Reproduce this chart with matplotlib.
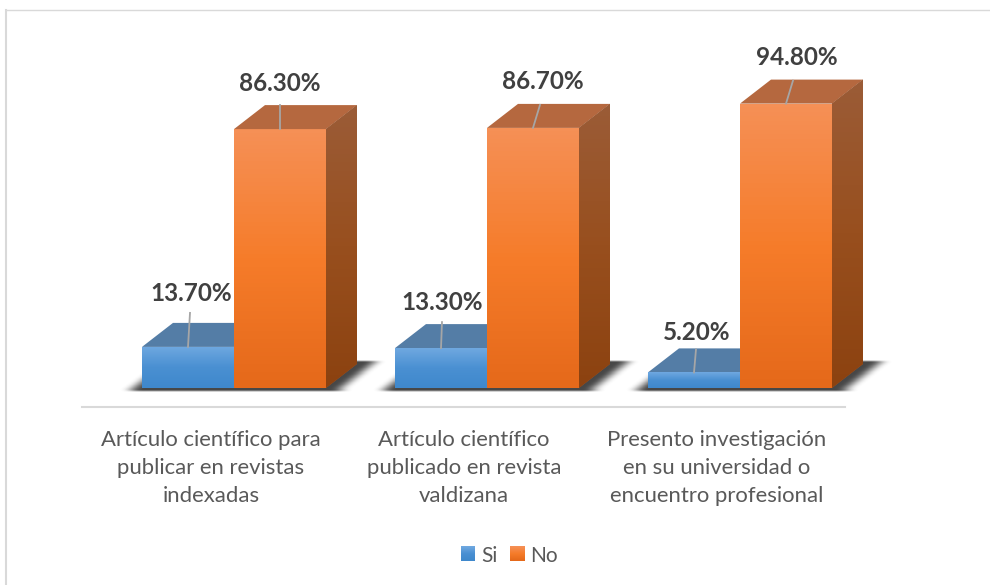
import matplotlib
matplotlib.use("Agg")
import matplotlib.pyplot as plt
import matplotlib.colors as mcolors
from matplotlib.patches import Polygon
import numpy as np

plt.rcParams['font.family'] = ['Lato', 'DejaVu Sans']

categories = ["Artículo científico para\npublicar en revistas\nindexadas",
              "Artículo científico\npublicado en revista\nvaldizana",
              "Presento investigación\nen su universidad o\nencuentro profesional"]
si_values = [13.7, 13.3, 5.2]
no_values = [86.3, 86.7, 94.8]
series_names = ["Si", "No"]

# picture is 990x585, one category = 253 px, one percent = 3 px
PX_X = 1 / 253
PX_Y = 1 / 3
W = 92 * PX_X
DX = 31 * PX_X
DY = 24 * PX_Y
x_left = -234 * PX_X
x_right = (990 - 234) * PX_X
y_bot = -(585 - 388) * PX_Y
y_top = 388 * PX_Y

BLUE = ["#6fa8e0", "#4a90d2", "#3f88cc"]
ORANGE = ["#f59056", "#f67c2a", "#e5691a"]
ORANGE_SIDE = ["#9b5c37", "#984f1e", "#8c4210"]

fig = plt.figure(figsize=(9.9, 5.85), dpi=100)
ax = fig.add_axes([0, 0, 1, 1])
ax.set_xlim(x_left, x_right)
ax.set_ylim(y_bot, y_top)
ax.axis("off")


def gradient_bar(x, v, colors):
	bar = ax.bar(x, v, W, align="edge", color=colors[0], zorder=4)[0]
	cmap = mcolors.LinearSegmentedColormap.from_list("g", colors)
	im = ax.imshow(np.linspace(0, 1, 64)[:, None], cmap=cmap, aspect="auto", zorder=5,
		extent=(x, x + W, 0, v), origin="upper")
	im.set_clip_path(bar)


def box3d(x, v, top, side_colors, z):
	# top face and right face of the bar
	ax.add_patch(Polygon([(x, v), (x + DX, v + DY), (x + W + DX, v + DY), (x + W, v)], fc=top, ec="none", zorder=z))
	side = Polygon([(x + W, 0), (x + W + DX, DY), (x + W + DX, v + DY), (x + W, v)], fc=side_colors[0], ec="none", zorder=z)
	ax.add_patch(side)
	cmap = mcolors.LinearSegmentedColormap.from_list("s", side_colors)
	im = ax.imshow(np.linspace(0, 1, 64)[:, None], cmap=cmap, aspect="auto", zorder=z,
		extent=(x + W, x + W + DX, 0, v + DY), origin="upper")
	im.set_clip_path(side)


def floor_shadow(i):
	# blurred parallelogram under a group
	xs = np.arange(990)
	img = np.zeros((585, 990))
	x0 = 234 + 253 * i
	for row in range(361, 391):
		shift = (388 - row) * 31 / 24 if row <= 388 else 0
		img[row, (xs >= x0 - 102 + shift) & (xs <= x0 + 106 + shift)] = 1
	k = np.hanning(29)
	k = k / k.sum()
	img = np.apply_along_axis(lambda a: np.convolve(a, k, mode="same"), 1, img)
	k = np.hanning(5)
	k = k / k.sum()
	img = np.apply_along_axis(lambda a: np.convolve(a, k, mode="same"), 0, img)
	rgba = np.zeros((585, 990, 4))
	rgba[..., :3] = 0.2
	rgba[..., 3] = img * 0.9
	ax.imshow(rgba, extent=(x_left, x_right, y_bot, y_top), aspect="auto", origin="upper", zorder=1)


for i in range(3):
	floor_shadow(i)
	x_si = i - W
	box3d(x_si, si_values[i], "#547da6", ["#3f6d99", "#3f6d99"], 2)
	gradient_bar(x_si, si_values[i], BLUE)
	box3d(i, no_values[i], "#b5683f", ORANGE_SIDE, 6)
	gradient_bar(i, no_values[i], ORANGE)
	ax.set_xlim(x_left, x_right)
	ax.set_ylim(y_bot, y_top)

# leader lines and data labels (dx, dy from the front top centre, px)
si_lead = [(2, 34), (1, 26), (2, 23)]
no_lead = [(0, 24), (7, 23), (7, 23)]
si_text = [(3, 53), (1, 46), (3, 40)]
no_text = [(0, 46), (10, 46), (11, 46)]
for i in range(3):
	xc = i - W / 2
	v = si_values[i]
	ax.plot([xc, xc + si_lead[i][0] * PX_X], [v, v + si_lead[i][1] * PX_Y], color="#a6a6a6", lw=1.3, zorder=7)
	ax.text(xc + si_text[i][0] * PX_X, v + si_text[i][1] * PX_Y, "{:.2f}%".format(v), fontsize=17.5, fontweight="bold",
		color="#404040", ha="center", va="center", zorder=9)
	xc = i + W / 2
	v = no_values[i]
	ax.plot([xc, xc + no_lead[i][0] * PX_X], [v, v + no_lead[i][1] * PX_Y], color="#a6a6a6", lw=1.3, zorder=7)
	ax.text(xc + no_text[i][0] * PX_X, v + no_text[i][1] * PX_Y, "{:.2f}%".format(v), fontsize=17.5, fontweight="bold",
		color="#404040", ha="center", va="center", zorder=9)

# category axis line
ax.plot([82 * PX_X + x_left, 845 * PX_X + x_left], [-19 * PX_Y, -19 * PX_Y], color="#d9d9d9", lw=1.5, zorder=3)
label_x = [211 * PX_X + x_left, 464 * PX_X + x_left, 717 * PX_X + x_left]
for i, c in enumerate(categories):
	ax.text(label_x[i], -(468 - 388) * PX_Y, c, fontsize=15.9, color="#595959", ha="center", va="center", linespacing=1.52)

# legend
ly = -(554 - 388) * PX_Y
sq = 14
for name, px, colors in [(series_names[0], 461, BLUE), (series_names[1], 510, ORANGE)]:
	cmap = mcolors.LinearSegmentedColormap.from_list("l", colors)
	ax.imshow(np.linspace(0, 1, 16)[:, None], cmap=cmap, aspect="auto", origin="upper", zorder=3,
		extent=(px * PX_X + x_left, (px + sq) * PX_X + x_left, ly - sq / 2 * PX_Y, ly + sq / 2 * PX_Y))
	ax.text((px + sq + 6) * PX_X + x_left, ly - 1.5 * PX_Y, name, fontsize=15, color="#595959", ha="left", va="center")

# chart frame, top and left only are visible
ax.plot([6 * PX_X + x_left, 6 * PX_X + x_left], [y_bot, y_top - 10 * PX_Y], color="#d9d9d9", lw=1.5)
ax.plot([6 * PX_X + x_left, x_right], [y_top - 10 * PX_Y, y_top - 10 * PX_Y], color="#d9d9d9", lw=1)
ax.set_xlim(x_left, x_right)
ax.set_ylim(y_bot, y_top)

fig.savefig("out.png", dpi=100)
